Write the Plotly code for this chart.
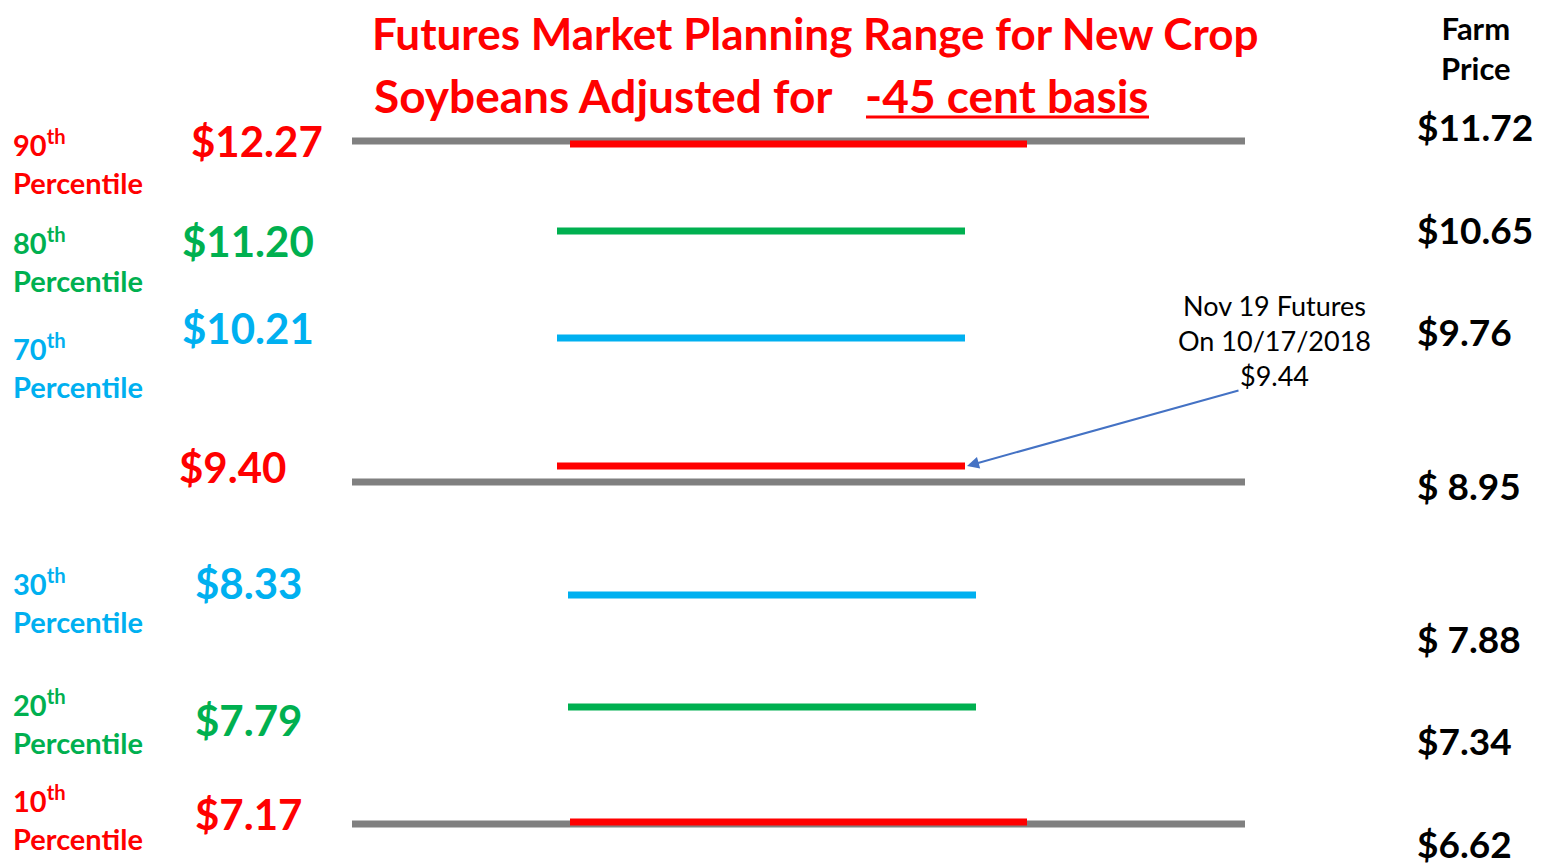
import plotly.graph_objects as go

# data
pct_labels = ["90", "80", "70", "", "30", "20", "10"]
futures = ["$12.27", "$11.20", "$10.21", "$9.40", "$8.33", "$7.79", "$7.17"]
farm = ["$11.72", "$10.65", "$9.76", "$ 8.95", "$ 7.88", "$7.34", "$6.62"]
colors = ["#FF0000", "#00B050", "#00B0F0", "#FF0000", "#00B0F0", "#00B050", "#FF0000"]

# layout (pixel positions of slide rows)
line_y = [144, 231, 338, 466, 595, 707, 822]
line_x0 = [570, 557, 557, 557, 568, 568, 570]
line_x1 = [1027, 965, 965, 965, 976, 976, 1027]
price_xy = [(257, 141), (248, 241), (248, 328), (232, 467), (248, 583), (248, 720), (248, 814)]
pct_y = [162, 260, 366, None, 601, 722, 818]
farm_y = [126, 229, 331, 485, 638, 740, 843]
gray_y = [141, 482, 824]

F = "Lato"
fig = go.Figure()
for gy in gray_y:
    fig.add_trace(go.Scatter(x=[352, 1245], y=[gy, gy], mode="lines",
                             line=dict(color="#808080", width=7), hoverinfo="skip"))
for i in range(len(futures)):
    fig.add_trace(go.Scatter(x=[line_x0[i], line_x1[i]], y=[line_y[i]] * 2, mode="lines",
                             line=dict(color=colors[i], width=7), hoverinfo="skip"))
ann = []
for i in range(len(futures)):
    px, py = price_xy[i]
    ann.append(dict(x=px, y=py, text="<b>%s</b>" % futures[i], font=dict(family=F, size=42, color=colors[i])))
    if pct_labels[i]:
        ann.append(dict(x=11, y=pct_y[i], xanchor="left", align="left",
                        text="<b>%s<sup>th</sup><br>Percentile</b>" % pct_labels[i],
                        font=dict(family=F, size=29, color=colors[i])))
    ann.append(dict(x=1415, y=farm_y[i], xanchor="left", text="<b>%s</b>" % farm[i],
                    font=dict(family=F, size=37, color="black")))
ann += [
    dict(x=1476, y=48, text="<b>Farm<br>Price</b>", font=dict(family=F, size=31, color="black")),
    dict(x=815, y=33, text="<b>Futures Market Planning Range for New Crop</b>", font=dict(family=F, size=44, color="#FF0000")),
    dict(x=372, y=95, xanchor="left", text="<b>Soybeans Adjusted for   -45 cent basis</b>", font=dict(family=F, size=46, color="#FF0000")),
    dict(x=1274, y=340, text="Nov 19 Futures<br>On 10/17/2018<br>$9.44", font=dict(family=F, size=27, color="black")),
    dict(x=967, y=466, ax=1240, ay=390, axref="x", ayref="y", text="", showarrow=True,
         arrowhead=2, arrowsize=1.2, arrowwidth=2, arrowcolor="#4472C4"),
]
for a in ann:
    a.setdefault("showarrow", False)
    a.setdefault("xref", "x"); a.setdefault("yref", "y")
fig.update_layout(width=1547, height=865, margin=dict(l=0, r=0, t=0, b=0),
                  plot_bgcolor="white", paper_bgcolor="white", showlegend=False, annotations=ann,
                  shapes=[dict(type="line", x0=866, x1=1149, y0=117, y1=117, xref="x", yref="y",
                               line=dict(color="#FF0000", width=3))])
fig.update_xaxes(range=[8, 1555], visible=False)
fig.update_yaxes(range=[873, 8], visible=False)
fig.write_html("out.html")
